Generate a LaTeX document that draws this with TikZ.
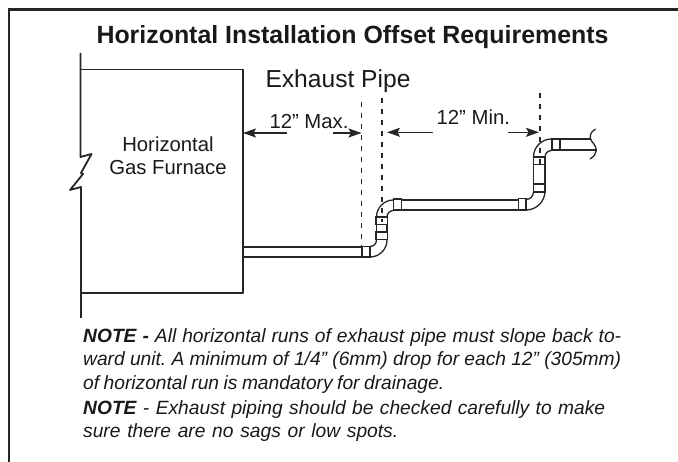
\documentclass[tikz,border=0pt]{standalone}
\usepackage{fontspec}
\setmainfont{Liberation Sans}
\usetikzlibrary{arrows.meta}
\frenchspacing
\newcommand{\noteline}[2]{\makebox[#1pt][s]{#2}}

\begin{document}
\begin{tikzpicture}[x=1pt,y=-1pt]
	\tikzstyle{frame}=[line width=2.4pt,color=black!85]
	\tikzstyle{wall}=[line width=1.8pt,color=black!85,line join=round]
	\tikzstyle{pipe}=[line width=1.3pt,color=black!85]
	\tikzstyle{fitting}=[draw,line width=1.3pt,color=black!85,fill=white]
	\tikzstyle{guide}=[line width=1.1pt,color=black!85,dash pattern=on 5pt off 6pt]
	\tikzstyle{dim}=[line width=1.3pt,color=black!85,-{Stealth[length=13pt,width=9pt,inset=2.5pt]}]
	\tikzstyle{label}=[inner sep=0pt,anchor=base,text=black!90,font=\fontsize{20.3}{23}\selectfont,align=center]
	\tikzstyle{note}=[inner sep=0pt,anchor=base west,text=black!90,font=\fontsize{19.2}{23}\selectfont\itshape]
	\useasboundingbox (0,0) rectangle (678,462);

	% page frame
	\draw [frame] (9,462) -- (9,9.5) -- (678,9.5);

	% texts
	\node [label,font=\fontsize{24.9}{28}\selectfont\bfseries] (title) at (352.5,43.3) {Horizontal Installation Offset Requirements};
	\node [label,font=\fontsize{24.6}{28}\selectfont] (pipename) at (338,88) {Exhaust Pipe};
	\node [label,anchor=center] (furnace) at (168,156) {Horizontal\\Gas Furnace};
	\node [label] (maxlabel) at (309,128.3) {12” Max.};
	\node [label] (minlabel) at (473.3,125) {12” Min.};

	% furnace with its break
	\draw [wall] (80.5,53) -- (80.5,157) -- (91.5,154) -- (81,173) -- (83,174) -- (70,190) -- (81,187) -- (81,318);
	\draw [wall] (80.5,69.5) -- (243,69.5) -- (243,293) -- (81,293);

	% pipe runs
	\draw [pipe] (243,247) -- (362,247) (243,257) -- (362,257);
	\draw [pipe] (370,257) arc (90:0:17) (370,246.5) arc (90:0:6.5);
	\draw [pipe] (376.5,240) -- (376.5,217) (387,240) -- (387,217);
	\draw [pipe] (376.5,217) arc (180:270:17) (387,217) arc (180:270:6.5);
	\draw [pipe] (393.5,200) -- (518.5,200) (393.5,210) -- (518.5,210);
	\draw [pipe] (526,210) arc (90:0:19) (526,199.5) arc (90:0:7.5);
	\draw [pipe] (533.5,192) -- (533.5,157) (545,192) -- (545,157);
	\draw [pipe] (533.5,157) arc (180:270:18) (545,157) arc (180:270:6.5);
	\draw [pipe] (551.5,139) -- (591,139) (551.5,150) -- (597,150);
	\draw [pipe] (595.5,129) .. controls (590,132) and (589,137) .. (591.5,141) .. controls (598,148) and (598,154) .. (590,159);

	% fittings
	\foreach \fx/\fy/\fw/\fh in {362/246.5/8/10.5, 393.5/199/8/11, 518.5/198.5/7.5/11.5, 552/139/8/11}
		\draw [fitting] (\fx,\fy) rectangle ++(\fw,\fh);
	\foreach \fx/\fy/\fw/\fh in {376/232/11.5/7.5, 376/217/11.5/7.5, 533.5/184/11.5/8, 533.5/157/11.5/7.5}
		\draw [fitting] (\fx,\fy) rectangle ++(\fw,\fh);

	% guide lines
	\draw [guide] (361.5,102) -- (361.5,250);
	\draw [guide] (382,98) -- (382,222);
	\draw [guide] (540,93) -- (540,165);

	% dimension arrows
	\coordinate (maxleft) at (243,133);
	\coordinate (maxlefttail) at (287,133);
	\coordinate (maxright) at (361.5,133);
	\coordinate (maxrighttail) at (333,133);
	\coordinate (minleft) at (387,132.3);
	\coordinate (minlefttail) at (433,132.3);
	\coordinate (minright) at (539,132.3);
	\coordinate (minrighttail) at (508,132.3);
	\draw [dim] (maxlefttail) -- (maxleft);
	\draw [dim] (maxrighttail) -- (maxright);
	\draw [dim] (minlefttail) -- (minleft);
	\draw [dim] (minrighttail) -- (minright);

	% notes
	\node [note] (noteone) at (83,342.3) {\noteline{538}{\textbf{NOTE -} All horizontal runs of exhaust pipe must slope back to-}};
	\node [note] (notetwo) at (83,366) {\noteline{538}{ward unit. A minimum of 1/4” (6mm) drop for each 12” (305mm)}};
	\node [note] (notethree) at (83,389.3) {\noteline{361}{of horizontal run is mandatory for drainage.}};
	\node [note] (notefour) at (83,414.3) {\noteline{522}{\textbf{NOTE} - Exhaust piping should be checked carefully to make}};
	\node [note] (notefive) at (83,437.7) {\noteline{315}{sure there are no sags or low spots.}};
\end{tikzpicture}
\end{document}
